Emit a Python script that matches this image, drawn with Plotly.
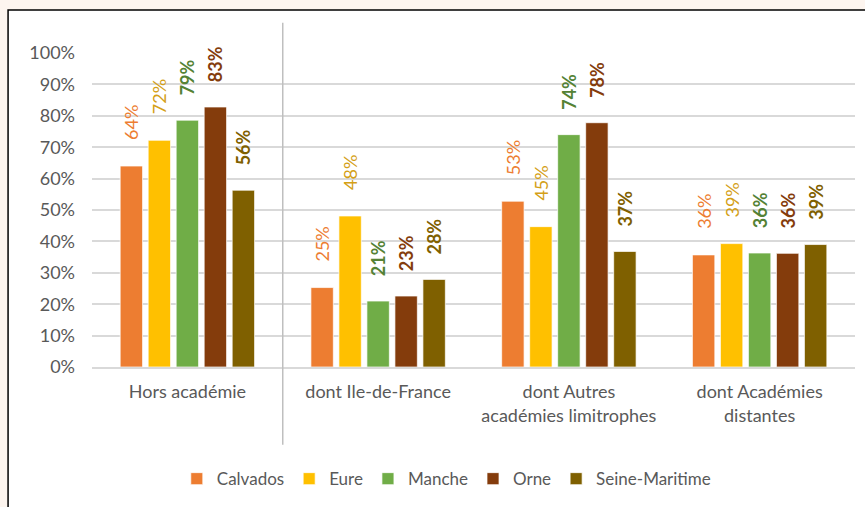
import plotly.graph_objects as go

# Catégories et séries (valeurs en %)
categories = ["Hors académie", "dont Ile-de-France",
              "dont Autres<br>académies limitrophes", "dont Académies<br>distantes"]
series = ["Calvados", "Eure", "Manche", "Orne", "Seine-Maritime"]
calvados = [64.0, 25.3, 52.8, 35.7]
eure = [72.2, 48.1, 44.7, 39.3]
manche = [78.6, 21.0, 74.0, 36.3]
orne = [82.8, 22.6, 77.8, 36.2]
seine_maritime = [56.3, 27.9, 36.8, 39.0]

values = [calvados, eure, manche, orne, seine_maritime]
bar_colors = ["#ED7D31", "#FFC000", "#70AD47", "#843C0C", "#7F6000"]
label_colors = ["#ED7D31", "#D4A017", "#548235", "#843C0C", "#7F6000"]
label_weights = ["normal", "normal", "bold", "bold", "bold"]

FONT = "Lato"
GREY = "#595959"
BEIGE = "#FDF5EF"

fig = go.Figure()
for name, vals, col, lcol, w in zip(series, values, bar_colors, label_colors, label_weights):
    fig.add_trace(go.Bar(
        name=name,
        x=categories,
        y=[v / 100 for v in vals],
        marker=dict(color=col, line=dict(color="rgba(255,255,255,0.7)", width=1)),
        texttemplate="\u00a0" * 5 + "%{y:.0%}",
        textposition="outside",
        textangle=-90,
        constraintext="none",
        cliponaxis=False,
        outsidetextfont=dict(family=FONT, size=18, color=lcol, weight=w),
        hoverinfo="skip",
    ))

# cadre du graphique + fond beige autour
fig.add_shape(type="rect", xref="paper", yref="paper",
              x0=-0.110, x1=1.2, y0=-0.6, y1=1.137,
              fillcolor="white", line=dict(color="black", width=1.5), layer="below")

# séparateur vertical après "Hors académie"
fig.add_shape(type="line", xref="x", yref="paper",
              x0=0.5, x1=0.5, y0=-0.248, y1=1.096,
              line=dict(color="#BFBFBF", width=1.5))

fig.update_layout(
    width=865, height=507,
    margin=dict(l=92, r=10, t=53, b=140, autoexpand=False),
    paper_bgcolor=BEIGE,
    plot_bgcolor="white",
    font=dict(family=FONT, size=17, color=GREY),
    barmode="group",
    bargap=0.266,
    bargroupgap=0.2,
    legend=dict(orientation="h", x=0.465, xanchor="center", y=-0.357, yanchor="middle",
                font=dict(family=FONT, size=17, color=GREY), bgcolor="rgba(0,0,0,0)"),
    showlegend=True,
)
fig.update_yaxes(range=[0, 1.0], dtick=0.1, tickformat=".0%", automargin=False,
                 gridcolor="#D9D9D9", gridwidth=1.5, zeroline=False,
                 ticklabelstandoff=16, tickfont=dict(size=18, color=GREY))
fig.update_xaxes(showline=True, linecolor="#D9D9D9", linewidth=1.5, automargin=False,
                 ticklabelstandoff=8, tickfont=dict(size=18, color=GREY))

# pas de marge de page autour du graphique
fig.write_html("out.html", config={"displayModeBar": False},
               post_script="document.body.style.margin='0';"
                           "document.body.style.background='" + BEIGE + "';")
